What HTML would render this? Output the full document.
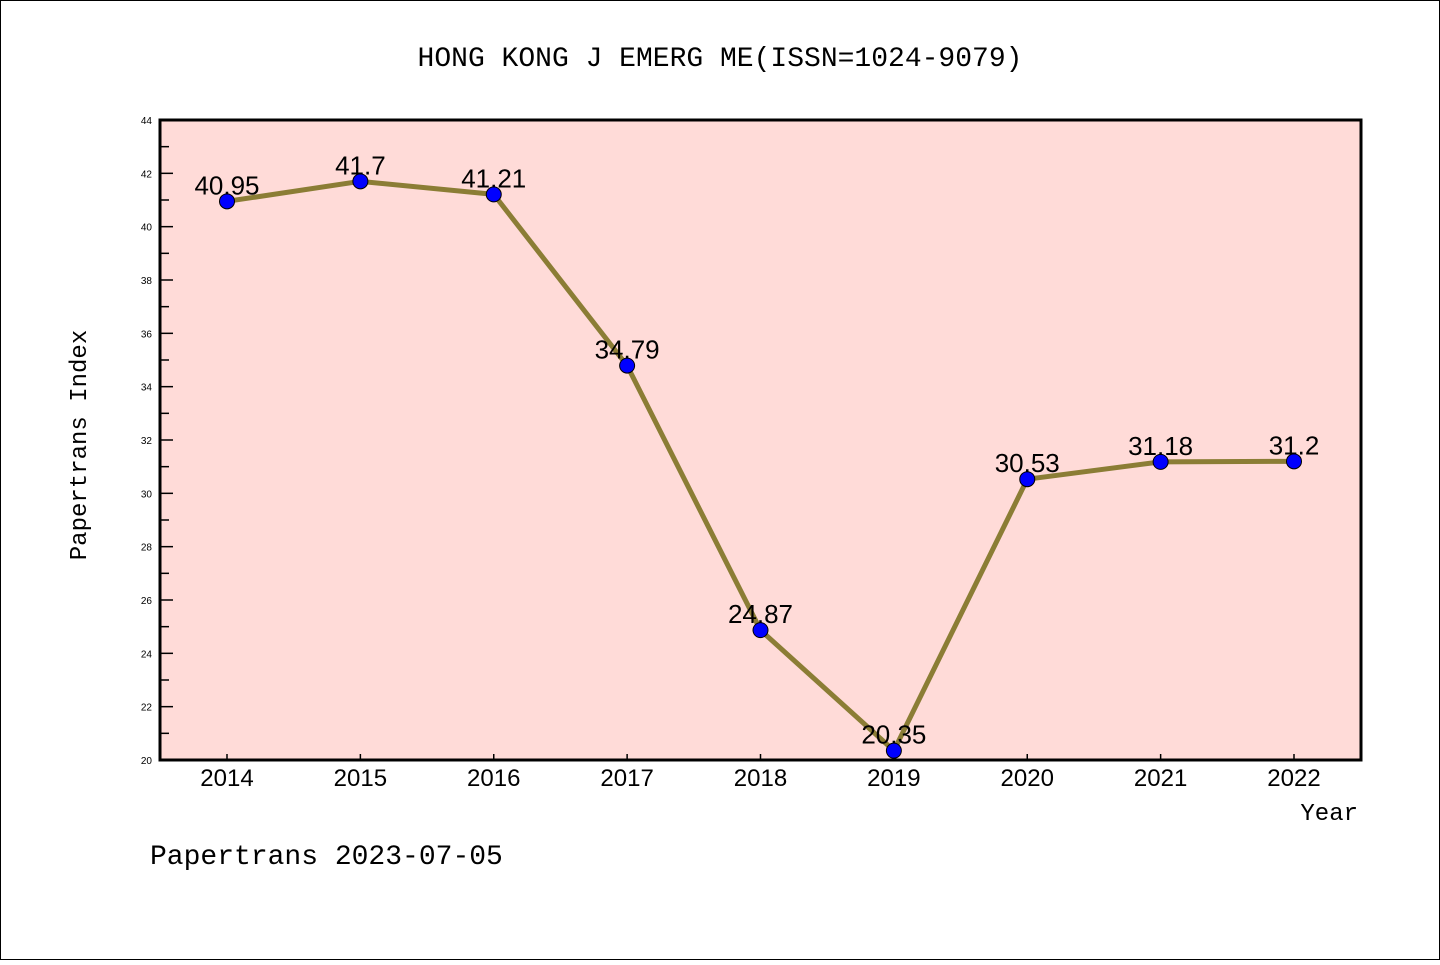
<!DOCTYPE html>
<html><head><meta charset="utf-8"><style>
body{margin:0;background:#fff}
svg text{font-family:"Liberation Sans","WenQuanYi Zen Hei",sans-serif}
.mono{font-family:"Liberation Mono","WenQuanYi Zen Hei",monospace}
</style></head><body>
<svg id="chart" width="1440" height="960" viewBox="0 0 1440 960" xmlns="http://www.w3.org/2000/svg">
<rect x="0.5" y="0.5" width="1439" height="959" fill="#fff" stroke="#000"/>
<text x="720" y="66" text-anchor="middle" font-size="28" class="mono">HONG KONG J EMERG ME(ISSN=1024-9079)</text>
<rect x="160" y="120" width="1201" height="640" fill="#ffdbd8"/>
<g id="axes"></g>
<g id="series"></g>
<rect x="160" y="120" width="1201" height="640" fill="none" stroke="#000" stroke-width="3"/>
<text x="86" y="445" text-anchor="middle" font-size="24" class="mono" transform="rotate(-90 86 445)">Papertrans Index</text>
<text x="1358" y="820" text-anchor="end" font-size="24" class="mono">Year</text>
<text x="150" y="864" font-size="28" class="mono">Papertrans 2023-07-05</text>
</svg>
<script>
const years = ["2014","2015","2016","2017","2018","2019","2020","2021","2022"];
const values = [40.95,41.7,41.21,34.79,24.87,20.35,30.53,31.18,31.2];
const valueLabels = ["40.95","41.7","41.21","34.79","24.87","20.35","30.53","31.18","31.2"];
const yTicks = [20,22,24,26,28,30,32,34,36,38,40,42,44];
const NS="http://www.w3.org/2000/svg";
const X=i=>227+i*(1294-227)/(years.length-1);
const Y=v=>760-(v-20)*640/24;
function mk(t,a,p){const e=document.createElementNS(NS,t);for(const k in a)e.setAttribute(k,a[k]);p.appendChild(e);return e;}
const ax=document.getElementById('axes'), se=document.getElementById('series');
yTicks.forEach((v,i)=>{
  const t=mk('line',{x1:160,x2:173,y1:Y(v),y2:Y(v),stroke:'#000','stroke-width':1.5},ax);
  
  
  const l=mk('text',{x:152,y:Y(v)+4,'text-anchor':'end','font-size':10},ax);
  l.textContent=v;
  
  
  if(i<yTicks.length-1){
    const m=mk('line',{x1:160,x2:169,y1:Y(v+1),y2:Y(v+1),stroke:'#000','stroke-width':1.5},ax);
    
    
  }
});
years.forEach((y,i)=>{
  const t=mk('line',{x1:X(i),x2:X(i),y1:760,y2:754,stroke:'#000','stroke-width':1.5},ax);
  
  
  const l=mk('text',{x:X(i),y:786,'text-anchor':'middle','font-size':24},ax);
  l.textContent=y;
  
  
});
const pl=mk('polyline',{points:values.map((v,i)=>X(i)+','+Y(v)).join(' '),fill:'none',stroke:'#8b7d35','stroke-width':5,'stroke-linejoin':'round'},se);


values.forEach((v,i)=>{
  const c=mk('circle',{cx:X(i),cy:Y(v),r:7.5,fill:'#0000ff',stroke:'#000','stroke-width':1},se);
  
  
  const l=mk('text',{x:X(i),y:Y(v)-7,'text-anchor':'middle','font-size':26},se);
  l.textContent=valueLabels[i];
  
  
});
</script>
</body></html>
